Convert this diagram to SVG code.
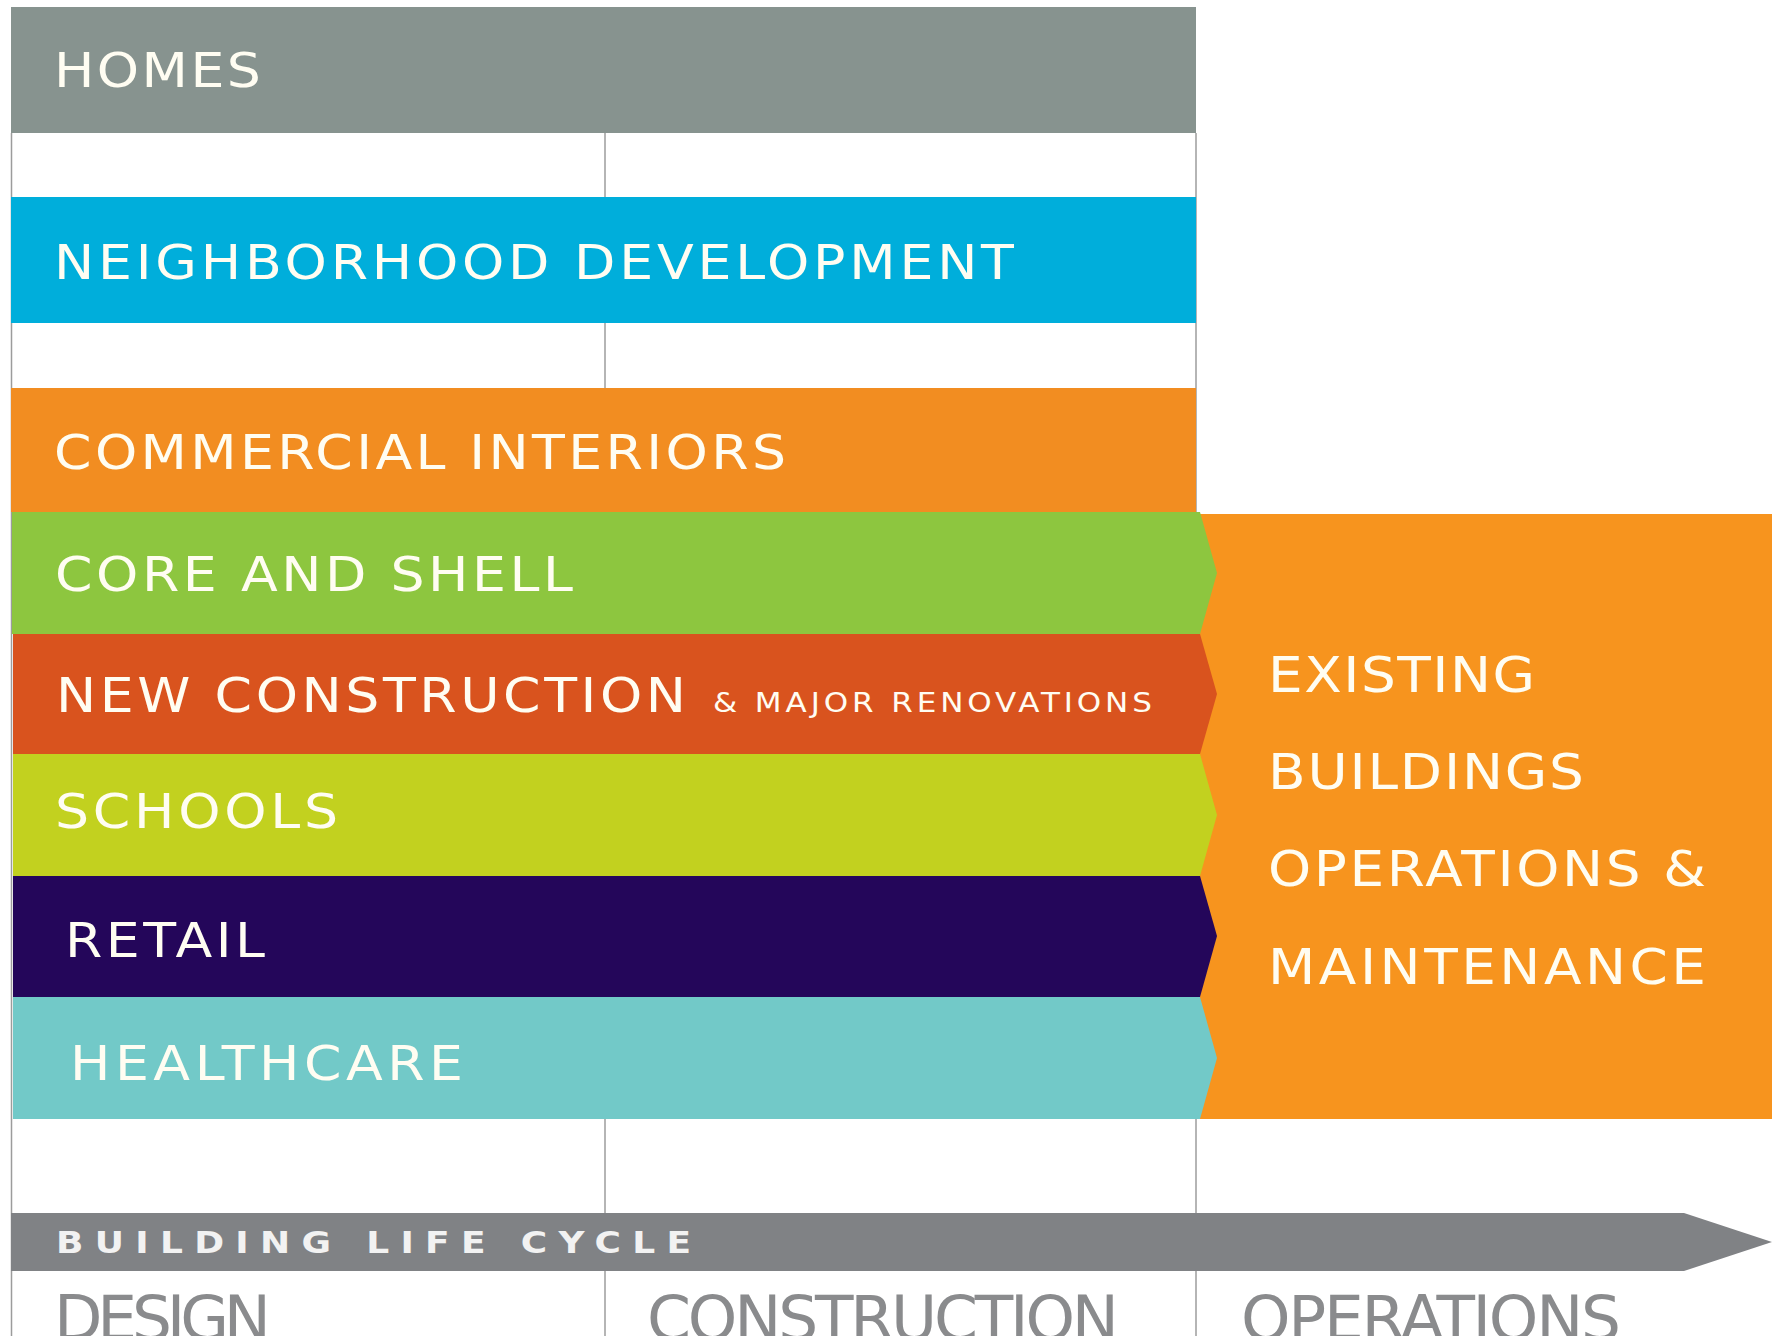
<svg xmlns="http://www.w3.org/2000/svg" width="1772" height="1336" viewBox="0 0 1772 1336">
<style>
.lbl{font-family:"DejaVu Sans",Lato,sans-serif;font-size:48px;fill:#fffdf2;}
.big{font-family:"DejaVu Sans",Lato,sans-serif;font-size:49px;fill:#fffdf2;}
.sm{font-family:"DejaVu Sans",Lato,sans-serif;font-size:27px;fill:#fffdf2;}
.phase{font-family:"DejaVu Sans",Lato,sans-serif;font-size:63px;fill:#8a8b8d;}
.cyc{font-family:"DejaVu Sans","Liberation Sans",sans-serif;font-weight:bold;font-size:30px;fill:#f2f2f2;}
.grid{stroke:#9c9c9c;stroke-width:1.5;fill:none;}
</style>
<rect width="1772" height="1336" fill="#ffffff"/>
<g id="grid">
<line class="grid" x1="11.5" y1="133" x2="11.5" y2="1336"/>
<line class="grid" x1="605" y1="133" x2="605" y2="1336"/>
<line class="grid" x1="1196" y1="133" x2="1196" y2="1336"/>
</g>
<g id="existing-buildings">
<rect x="1198" y="514" width="574" height="605" fill="#f7941e"/>
<text class="big" transform="translate(1268 692) scale(1.12 1)" textLength="238.4" lengthAdjust="spacing">EXISTING</text>
<text class="big" transform="translate(1268 789) scale(1.12 1)" textLength="282.1" lengthAdjust="spacing">BUILDINGS</text>
<text class="big" transform="translate(1268 886) scale(1.12 1)" textLength="391.1" lengthAdjust="spacing">OPERATIONS &amp;</text>
<text class="big" transform="translate(1268 984) scale(1.12 1)" textLength="391.1" lengthAdjust="spacing">MAINTENANCE</text>
</g>
<g id="homes">
<rect x="11" y="7" width="1185" height="126" fill="#87938f"/>
<text class="lbl" transform="translate(54 87) scale(1.12 1)" textLength="184.8" lengthAdjust="spacing">HOMES</text>
</g>
<g id="neighborhood-development">
<rect x="11" y="197" width="1185" height="126" fill="#00aedb"/>
<text class="lbl" transform="translate(54 279) scale(1.12 1)" textLength="857.1" lengthAdjust="spacing">NEIGHBORHOOD DEVELOPMENT</text>
</g>
<g id="commercial-interiors">
<rect x="11" y="388" width="1185" height="124" fill="#f28d21"/>
<text class="lbl" transform="translate(54 469) scale(1.12 1)" textLength="653.6" lengthAdjust="spacing">COMMERCIAL INTERIORS</text>
</g>
<g id="core-and-shell">
<polygon points="12,512 1200,512 1217,573 1200,634 12,634" fill="#8dc63f"/>
<text class="lbl" transform="translate(55 591) scale(1.12 1)" textLength="462.5" lengthAdjust="spacing">CORE AND SHELL</text>
</g>
<g id="new-construction">
<polygon points="13,634 1200,634 1217,694 1200,754 13,754" fill="#d9531e"/>
<text class="lbl" transform="translate(56 712) scale(1.12 1)" textLength="562.5" lengthAdjust="spacing">NEW CONSTRUCTION</text>
<text class="sm" transform="translate(713 712) scale(1.15 1)" textLength="381.7" lengthAdjust="spacing">&amp; MAJOR RENOVATIONS</text>
</g>
<g id="schools">
<polygon points="13,754 1200,754 1217,815 1200,876 13,876" fill="#c2d11f"/>
<text class="lbl" transform="translate(55 828) scale(1.12 1)" textLength="252.7" lengthAdjust="spacing">SCHOOLS</text>
</g>
<g id="retail">
<polygon points="13,876 1200,876 1217,936 1200,997 13,997" fill="#24065a"/>
<text class="lbl" transform="translate(65 957) scale(1.12 1)" textLength="178.6" lengthAdjust="spacing">RETAIL</text>
</g>
<g id="healthcare">
<polygon points="13,997 1200,997 1217,1058 1200,1119 13,1119" fill="#72c9c8"/>
<text class="lbl" transform="translate(70 1080) scale(1.12 1)" textLength="350.9" lengthAdjust="spacing">HEALTHCARE</text>
</g>
<g id="building-life-cycle">
<polygon points="11,1213 1684,1213 1772,1242 1684,1271 11,1271" fill="#808285"/>
<text class="cyc" transform="translate(56 1253) scale(1.2 1)" textLength="529.2" lengthAdjust="spacing">BUILDING LIFE CYCLE</text>
</g>
<g id="phases">
<text class="phase" x="54" y="1340" textLength="217" lengthAdjust="spacing">DESIGN</text>
<text class="phase" x="647" y="1340" textLength="472" lengthAdjust="spacing">CONSTRUCTION</text>
<text class="phase" x="1241" y="1340" textLength="380" lengthAdjust="spacing">OPERATIONS</text>
</g>
</svg>
